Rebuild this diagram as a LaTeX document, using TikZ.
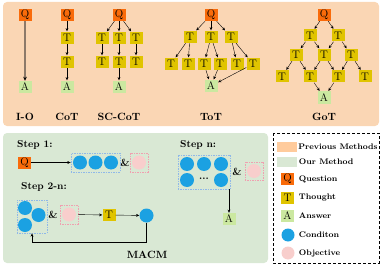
\documentclass[tikz,border=0pt]{standalone}
\usetikzlibrary{arrows.meta,positioning,fit}
\definecolor{panelorange}{HTML}{FAD6B4}
\definecolor{prevorange}{HTML}{FFCB9C}
\definecolor{panelgreen}{HTML}{D9E8D4}
\definecolor{qorange}{HTML}{F96B0A}
\definecolor{tyellow}{HTML}{E0C400}
\definecolor{agreen}{HTML}{CBE8A0}
\definecolor{condblue}{HTML}{1BA1E2}
\definecolor{objpink}{HTML}{F8CECC}
\definecolor{boxblue}{HTML}{8FB8E8}
\definecolor{boxpink}{HTML}{F0A0B0}
\definecolor{iobrown}{HTML}{8C7A6A}

\begin{document}
\begin{tikzpicture}[x=1pt,y=-1pt,>={Stealth[length=3.2pt,width=2.8pt]},
  qbox/.style={fill=qorange,minimum width=13pt,minimum height=12pt,inner sep=0pt,font=\fontsize{11}{11}\selectfont},
  tbox/.style={qbox,fill=tyellow},
  abox/.style={qbox,fill=agreen},
  cond/.style={circle,fill=condblue,minimum size=14pt,inner sep=0pt},
  obj/.style={circle,fill=objpink,minimum size=14pt,inner sep=0pt},
  cbox/.style={draw=boxblue,dash pattern=on 1.5pt off 1pt,inner sep=2pt},
  obox/.style={draw=boxpink,dash pattern=on 1.5pt off 1pt,inner sep=2pt},
  swatch/.style={minimum width=20pt,minimum height=10pt,inner sep=0pt},
  title/.style={font=\fontsize{10.5}{11}\bfseries\selectfont},
  steplbl/.style={font=\fontsize{10}{11}\bfseries\selectfont,anchor=west,inner sep=0pt},
  legtext/.style={font=\fontsize{8.1}{9}\bfseries\selectfont,inner sep=0pt},
  edge/.style={->,shorten >=0.5pt}]
\useasboundingbox (0,0) rectangle (382,267);
\fill[panelorange,rounded corners=4pt] (3,2) rectangle (379,126);
\fill[panelgreen,rounded corners=4pt] (3,133) rectangle (268,263);
\draw[densely dashed,line width=0.6pt] (273,133) rectangle (379,263);

% I-O
\node[qbox] (io-q) at (25,15) {Q};
\node[abox] (io-a) at (25,87) {A};
\draw[draw=iobrown,line width=1.2pt,-{Stealth[length=4pt,width=3.6pt,color=black]}] (io-q) -- (io-a);
\node[title] at (25,117) {I-O};

% CoT
\node[qbox] (cot-q) at (67,15) {Q};
\node[tbox] (cot-t1) at (67,38) {T};
\node[tbox] (cot-t2) at (67,62) {T};
\node[abox] (cot-a) at (67,87) {A};
\draw[edge] (cot-q) -- (cot-t1);
\draw[edge] (cot-t1) -- (cot-t2);
\draw[edge] (cot-t2) -- (cot-a);
\node[title] at (67,117) {CoT};

% SC-CoT
\node[qbox] (sc-q) at (119,15) {Q};
\foreach \i/\x in {1/102,2/119,3/136} {
  \node[tbox] (sc-a\i) at (\x,38) {T};
  \node[tbox] (sc-b\i) at (\x,62) {T};
  \draw[edge] (sc-q) -- (sc-a\i);
  \draw[edge] (sc-a\i) -- (sc-b\i);
}
\node[abox] (sc-a) at (119,87) {A};
\draw[edge] (sc-b2) -- (sc-a);
\node[title] at (119,117) {SC-CoT};

% ToT
\node[qbox] (tot-q) at (211,15) {Q};
\foreach \i/\x in {1/190,2/211,3/231}
  \node[tbox] (tot-a\i) at (\x,37) {T};
\foreach \i/\x in {1/171,2/188,3/204,4/220,5/237,6/253}
  \node[tbox] (tot-b\i) at (\x,64) {T};
\node[abox] (tot-a) at (211,86) {A};
\foreach \i in {1,2,3}
  \draw[edge] (tot-q) -- (tot-a\i);
\foreach \p/\c in {1/1,1/2,2/3,2/4,3/5,3/6}
  \draw[edge] (tot-a\p) -- (tot-b\c);
\foreach \c in {3,4,6}
  \draw[edge] (tot-b\c) -- (tot-a);
\node[title] at (211,117) {ToT};

% GoT
\node[qbox] (got-q) at (324,15) {Q};
\foreach \i/\x in {1/310,2/338}
  \node[tbox] (got-a\i) at (\x,35.5) {T};
\foreach \i/\x in {1/296,2/324,3/351}
  \node[tbox] (got-b\i) at (\x,55) {T};
\foreach \i/\x in {1/282,2/310,3/338,4/365}
  \node[tbox] (got-c\i) at (\x,76.5) {T};
\node[abox] (got-a) at (324,97.5) {A};
\foreach \i in {1,2}
  \draw[edge] (got-q) -- (got-a\i);
\foreach \p/\c in {1/1,1/2,2/2,2/3}
  \draw[edge] (got-a\p) -- (got-b\c);
\foreach \p/\c in {1/1,1/2,2/2,2/3,3/3,3/4}
  \draw[edge] (got-b\p) -- (got-c\c);
\foreach \c in {2,3}
  \draw[edge] (got-c\c) -- (got-a);
\node[title] at (324,117) {GoT};

% Step 1
\node[steplbl] (s1) at (17,145) {Step 1:};
\node[qbox] (s1-q) at (24.5,162.5) {Q};
\foreach \i/\x in {1/80,2/95.5,3/111}
  \node[cond] (s1-c\i) at (\x,162.5) {};
\node[cbox,fit=(s1-c1)(s1-c3)] (s1-box) {};
\node[title] (s1-and) at (125,162.5) {\&};
\node[obj] (s1-o) at (139,162.5) {};
\node[obox,fit=(s1-o)] (s1-obox) {};
\draw[->] (s1-q) -- (s1-box);

% Step 2-n
\node[steplbl] (s2) at (21,187) {Step 2-n:};
\node[cond] (s2-c1) at (25,208) {};
\node[cond] (s2-c2) at (25,225) {};
\node[cond] (s2-c3) at (38.5,215) {};
\node[cbox,inner sep=1pt,fit=(s2-c1)(s2-c2)(s2-c3)] (s2-box) {};
\node[title] (s2-and) at (53,215) {\&};
\node[obj] (s2-o) at (69,214.5) {};
\node[obox,fit=(s2-o)] (s2-obox) {};
\node[tbox] (s2-t) at (109,215) {T};
\node[cond] (s2-c) at (146.5,215.5) {};
\coordinate (s2-loop) at (32,242);
\draw[->] (s2-obox) -- (s2-t);
\draw[->] (s2-t) -- (s2-c);
\draw[->] (s2-c) |- (s2-loop) -- (s2-loop |- s2-box.south);
\node[title] (macm) at (147,255) {MACM};

% Step n
\node[steplbl] (sn) at (180,145) {Step n:};
\foreach \i/\x/\y in {1/187/164,2/204/164,3/221/164,4/187/180,5/221/180}
  \node[cond] (sn-c\i) at (\x,\y) {};
\node[font=\bfseries] (sn-dots) at (204,179) {...};
\node[cbox,fit=(sn-c1)(sn-c5)] (sn-box) {};
\node[title] (sn-and) at (237,172) {\&};
\node[obj] (sn-o) at (254,171) {};
\node[obox,fit=(sn-o)] (sn-obox) {};
\node[abox] (sn-a) at (229,219) {A};
\draw[->] (sn-a |- sn-box.south) -- (sn-a);

% legend
\node[swatch,fill=prevorange] (lg-prev) at (287,147) {};
\node[swatch,fill=panelgreen] (lg-our) at (287,162) {};
\node[qbox] (lg-q) at (287.5,179) {Q};
\node[tbox] (lg-t) at (287.5,197.5) {T};
\node[abox] (lg-a) at (287.5,216) {A};
\node[cond,minimum size=13pt] (lg-c) at (288,235) {};
\node[obj,minimum size=13pt] (lg-o) at (288,253) {};
\node[legtext,right=1pt of lg-prev] {Previous Methods};
\node[legtext,right=1.5pt of lg-our] {Our Method};
\node[legtext,right=4.5pt of lg-q] {Question};
\node[legtext,right=4.5pt of lg-t] {Thought};
\node[legtext,right=4.5pt of lg-a] {Answer};
\node[legtext,right=4pt of lg-c] {Conditon};
\node[legtext,right=4pt of lg-o] {Objective};
\end{tikzpicture}
\end{document}
